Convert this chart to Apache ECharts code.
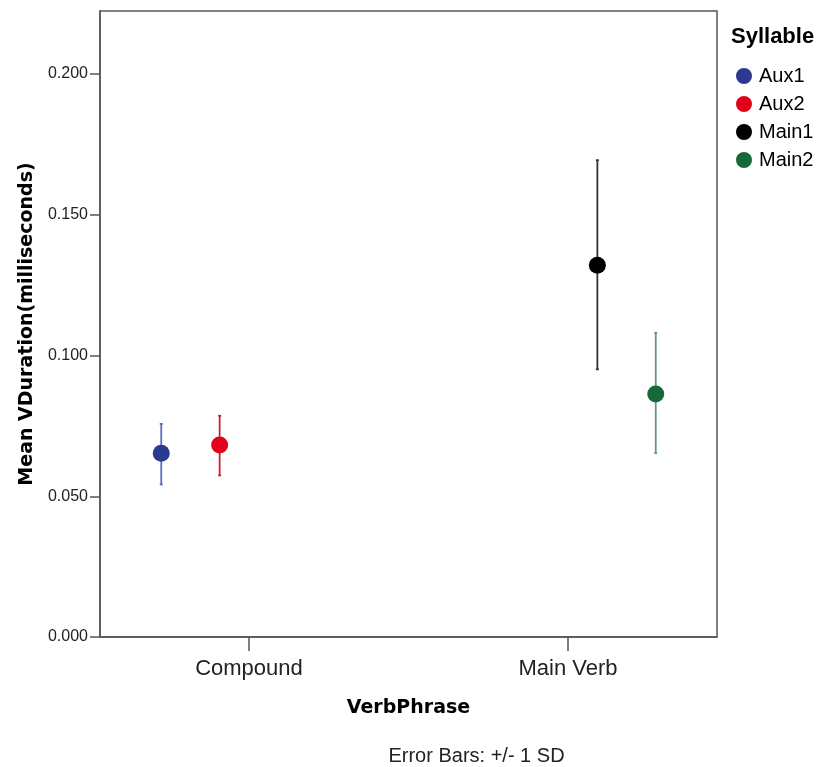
<!DOCTYPE html>
<html>
<head>
<meta charset="utf-8">
<script src="https://cdn.jsdelivr.net/npm/echarts@6/dist/echarts.min.js"></script>
<style>
html,body{margin:0;padding:0;background:#fff;}
#chart{width:826px;height:767px;}
</style>
</head>
<body>
<div id="chart"></div>
<script>
const categories = ['Compound', 'Main Verb'];
const syllables = ['Aux1', 'Aux2', 'Main1', 'Main2'];
const syllableCategory = [0, 0, 1, 1];
const meanValues = [0.0653, 0.0682, 0.1321, 0.0863];
const lowerValues = [0.0542, 0.0574, 0.0951, 0.0653];
const upperValues = [0.0757, 0.0786, 0.1694, 0.1081];
const yTicks = [0, 0.05, 0.1, 0.15, 0.2];

const groupOffsets = [-0.275, -0.092, 0.092, 0.275];
const markerColors = ['#2b3990', '#e3001b', '#000000', '#17693a'];
const barColors = ['#5a6cc4', '#c4262c', '#333333', '#5f9a83'];

const chart = echarts.init(document.getElementById('chart'));
const series = [];
syllables.forEach((name, i) => {
  const x = syllableCategory[i] + groupOffsets[i];
  series.push({
    name: name,
    type: 'scatter',
    symbol: 'circle',
    symbolSize: 17,
    z: 5,
    itemStyle: { color: markerColors[i], opacity: 1 },
    data: [[x, meanValues[i]]]
  });
  series.push({
    name: name,
    type: 'custom',
    z: 3,
    itemStyle: { color: barColors[i] },
    data: [[x, lowerValues[i], upperValues[i]]],
    renderItem: function (params, api) {
      const p1 = api.coord([api.value(0), api.value(1)]);
      const p2 = api.coord([api.value(0), api.value(2)]);
      const st = { stroke: barColors[i], lineWidth: 1.8 };
      return {
        type: 'group',
        children: [
          { type: 'line', shape: { x1: p1[0], y1: p1[1], x2: p2[0], y2: p2[1] }, style: st },
          { type: 'line', shape: { x1: p1[0] - 1.5, y1: p1[1], x2: p1[0] + 1.5, y2: p1[1] }, style: st },
          { type: 'line', shape: { x1: p2[0] - 1.5, y1: p2[1], x2: p2[0] + 1.5, y2: p2[1] }, style: st }
        ]
      };
    }
  });
});

const option = {
  animation: false,
  backgroundColor: '#ffffff',
  title: {
    text: 'Syllable',
    left: 731,
    top: 26,
    padding: 0,
    textStyle: { fontFamily: 'Liberation Sans', fontWeight: 'bold', fontSize: 22, color: '#000' }
  },
  legend: {
    orient: 'vertical',
    left: 736,
    top: 66,
    padding: 0,
    itemGap: 8,
    itemWidth: 16,
    itemHeight: 16,
    icon: 'circle',
    data: syllables,
    textStyle: { fontFamily: 'Liberation Sans', fontSize: 20, color: '#000', padding: [0, 0, 0, 2] }
  },
  grid: {
    left: 100, right: 109, top: 11, bottom: 130,
    show: true, borderColor: '#555', borderWidth: 1.5, backgroundColor: 'transparent'
  },
  xAxis: {
    type: 'value',
    min: -0.467,
    max: 1.467,
    splitLine: { show: false },
    axisLine: { show: true, onZero: false, lineStyle: { color: '#555', width: 1.5 } },
    axisTick: { show: true, length: 14, customValues: [0, 1], lineStyle: { color: '#555', width: 1.5 } },
    axisLabel: {
      customValues: [0, 1],
      margin: 21,
      fontFamily: 'Liberation Sans', fontSize: 22, color: '#222',
      formatter: v => categories[Math.round(v)]
    },
    name: 'VerbPhrase',
    nameLocation: 'middle',
    nameGap: 62,
    nameTextStyle: { fontFamily: 'DejaVu Sans', fontWeight: 'bold', fontSize: 19, color: '#000' }
  },
  yAxis: {
    type: 'value',
    min: 0,
    max: 0.2224,
    splitLine: { show: false },
    axisLine: { show: true, onZero: false, lineStyle: { color: '#555', width: 1.5 } },
    axisTick: { show: true, length: 10, customValues: yTicks, lineStyle: { color: '#555', width: 1.5 } },
    axisLabel: {
      customValues: yTicks,
      margin: 12,
      fontFamily: 'Liberation Sans', fontSize: 16, color: '#222',
      formatter: v => v.toFixed(3)
    },
    name: 'Mean VDuration(milliseconds)',
    nameLocation: 'middle',
    nameGap: 56,
    nameTextStyle: { fontFamily: 'DejaVu Sans', fontWeight: 'bold', fontSize: 19, color: '#000' }
  },
  graphic: [{
    type: 'text',
    x: 476.5,
    y: 756,
    style: {
      text: 'Error Bars: +/- 1 SD',
      fontFamily: 'Liberation Sans', fontSize: 20, fill: '#222',
      align: 'center', verticalAlign: 'middle'
    }
  }],
  series: series
};
chart.setOption(option);
</script>
</body>
</html>
